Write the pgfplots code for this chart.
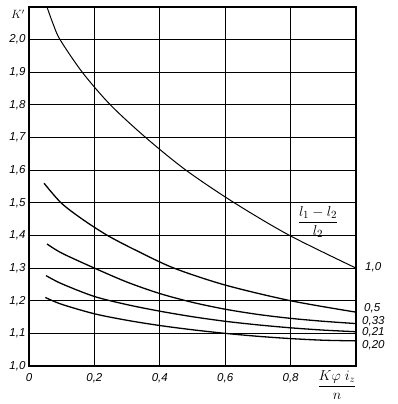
\documentclass[border=0pt]{standalone}
\usepackage{amsmath}
\usepackage{fontspec}
\setmainfont{Liberation Sans}
\usepackage{pgfplots}
\pgfplotsset{compat=1.18}
\begin{document}
\begin{tikzpicture}
\begin{axis}[
  scale only axis,
  width=327pt, height=359pt,
  xmin=0, xmax=1.0, ymin=1.0, ymax=2.1,
  xtick={0,0.2,0.4,0.6,0.8},
  xticklabels={0,{0,2},{0,4},{0,6},{0,8}},
  ytick={1.0,1.1,1.2,1.3,1.4,1.5,1.6,1.7,1.8,1.9,2.0},
  yticklabels={{1,0},{1,1},{1,2},{1,3},{1,4},{1,5},{1,6},{1,7},{1,8},{1,9},{2,0}},
  /pgf/number format/assume math mode=true,
  ticklabel style={font=\itshape\fontsize{11.5}{13}\selectfont},
  major tick length=0pt,
  grid=major,
  major grid style={black, line width=1pt},
  axis line style={black, line width=1.4pt},
  xticklabel style={yshift=-4pt},
  yticklabel style={xshift=0pt},
  clip=true,
]
\addplot[black, line width=1pt, smooth] coordinates {
(0.055,2.1) (0.073,2.05) (0.095,2.0) (0.163,1.9) (0.249,1.8) (0.357,1.7) (0.48,1.6) (0.628,1.5) (0.797,1.4) (1.0,1.3)};
\addplot[black, line width=1.3pt, smooth] coordinates {
(0.046,1.56) (0.098,1.5) (0.16,1.452) (0.24,1.4) (0.33,1.353) (0.443,1.3) (0.6,1.248) (0.8,1.2) (1.0,1.165)};
\addplot[black, line width=1.3pt, smooth] coordinates {
(0.055,1.374) (0.1,1.346) (0.2,1.30) (0.3,1.257) (0.4,1.222) (0.5,1.195) (0.6,1.174) (0.7,1.158) (0.8,1.146) (0.9,1.137) (1.0,1.13)};
\addplot[black, line width=1.3pt, smooth] coordinates {
(0.052,1.277) (0.1,1.252) (0.2,1.213) (0.3,1.188) (0.4,1.168) (0.5,1.151) (0.6,1.137) (0.7,1.126) (0.8,1.117) (0.9,1.11) (1.0,1.105)};
\addplot[black, line width=1.3pt, smooth] coordinates {
(0.05,1.21) (0.1,1.189) (0.2,1.16) (0.3,1.14) (0.4,1.124) (0.5,1.111) (0.6,1.1) (0.7,1.091) (0.8,1.084) (0.9,1.079) (1.0,1.077)};
\end{axis}
\begin{scope}[x=1pt,y=1pt]
\node[anchor=south east, inner sep=0pt, font=\itshape\fontsize{12}{14}\selectfont] at (-4,347) {$K^{\prime}$};
\node[anchor=west, inner sep=0pt, font=\itshape\fontsize{11.5}{13}\selectfont] at (336,99) {1,0};
\node[anchor=west, inner sep=0pt, font=\itshape\fontsize{11.5}{13}\selectfont] at (335,58) {0,5};
\node[anchor=west, inner sep=0pt, font=\itshape\fontsize{11.5}{13}\selectfont] at (333,45) {0,33};
\node[anchor=west, inner sep=0pt, font=\itshape\fontsize{11.5}{13}\selectfont] at (333,34) {0,21};
\node[anchor=west, inner sep=0pt, font=\itshape\fontsize{11.5}{13}\selectfont] at (333,21) {0,20};
\node[inner sep=0pt, font=\fontsize{15}{17}\selectfont] at (289,144) {$\dfrac{l_1 - l_2}{l_2}$};
\node[inner sep=0pt, font=\fontsize{14}{16}\selectfont] at (308,-19) {$\dfrac{K\varphi\ i_z}{n}$};
\end{scope}
\pgfresetboundingbox
\useasboundingbox (-29pt,-38pt) rectangle (369pt,366pt);
\end{tikzpicture}
\end{document}
